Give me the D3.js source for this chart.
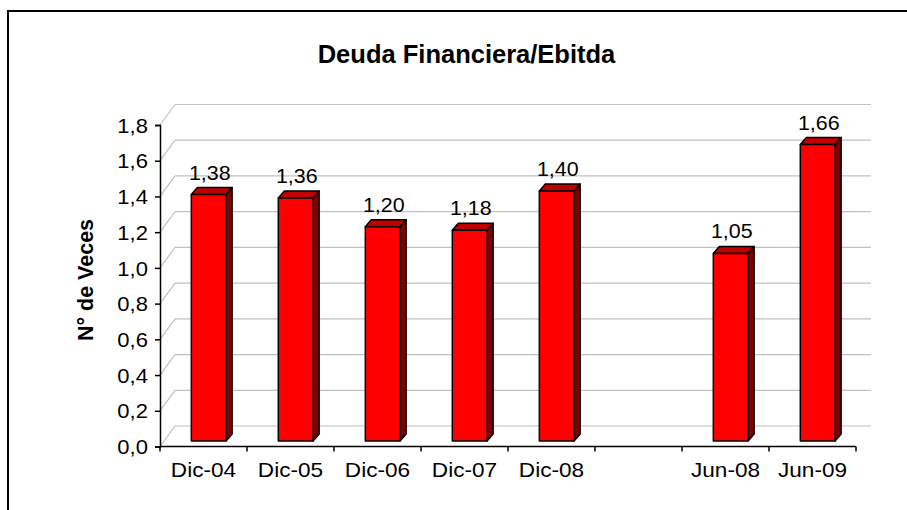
<!DOCTYPE html>
<html lang="es">
  <meta charset="UTF-8" />
  <title>Deuda Financiera/Ebitda</title>
  <style>
    body { margin: 0; background: #fff; }
    text { font-family: "Liberation Sans", Arial, sans-serif; fill: #000; }
  </style>
  <script src="https://d3js.org/d3.v7.min.js"></script>
  <body>
    <div id="chart"></div>
    <script>
      // data (blank slot between Dic-08 and Jun-08)
      const categories = ["Dic-04", "Dic-05", "Dic-06", "Dic-07", "Dic-08", "", "Jun-08", "Jun-09"];
      const values = [1.38, 1.36, 1.2, 1.18, 1.4, null, 1.05, 1.66];
      const yTicks = [0, 0.2, 0.4, 0.6, 0.8, 1.0, 1.2, 1.4, 1.6, 1.8];

      const W = 907, H = 510;
      const plotLeft = 160, plotRight = 856, plotTop = 125, plotBottom = 446.5;
      const wall = { dx: 15, dy: -20.5 }; // back wall offset
      const front = { dx: 0, dy: -5.5 }; // bar front face offset from axis plane
      const depth = { dx: 6, dy: -7 }; // bar depth
      const stretch = "scale(1.1,1)"; // the original text is a bit wide

      const es = d3.formatLocale({ decimal: ",", thousands: ".", grouping: [3], currency: ["", ""] });
      const f1 = es.format(".1f"), f2 = es.format(".2f");

      const svg = d3.select("#chart").append("svg").attr("width", W).attr("height", H);

      // outer border (runs off the right and bottom edges)
      svg.append("rect")
        .attr("x", 8).attr("y", 11).attr("width", 910).attr("height", 520)
        .attr("fill", "none").attr("stroke", "#000").attr("stroke-width", 2);

      const x = d3.scaleBand().domain(categories).range([plotLeft, plotRight]).padding(0);
      const y = d3.scaleLinear().domain([0, 1.8]).range([plotBottom, plotTop]);

      // gridlines: side wall diagonal + back wall horizontal
      const grid = svg.append("g").attr("stroke", "#c0c0c0").attr("stroke-width", 1.2).attr("fill", "none");
      yTicks.forEach((t) => {
        grid.append("line")
          .attr("x1", plotLeft).attr("y1", y(t))
          .attr("x2", plotLeft + wall.dx).attr("y2", y(t) + wall.dy);
        grid.append("line")
          .attr("x1", plotLeft + wall.dx).attr("y1", y(t) + wall.dy)
          .attr("x2", plotRight + wall.dx).attr("y2", y(t) + wall.dy);
      });

      // y axis
      svg.append("g")
        .attr("transform", "translate(" + plotLeft + ",0)")
        .call(d3.axisLeft(y).tickValues(yTicks).tickFormat(f1).tickSize(5).tickPadding(6))
        .call((g) => g.select(".domain").attr("stroke", "#000").attr("stroke-width", 1.5))
        .call((g) => g.selectAll(".tick line").attr("stroke", "#000").attr("stroke-width", 1.5))
        .call((g) => g.selectAll(".tick text").attr("font-size", 20).attr("font-family", null)
          .attr("dy", "0.36em").attr("transform", stretch));

      // x axis: labels at band centres, ticks at band edges
      const xa = svg.append("g").attr("transform", "translate(0," + plotBottom + ")");
      xa.call(d3.axisBottom(x).tickSize(0).tickPadding(16))
        .call((g) => g.select(".domain").remove())
        .call((g) => g.selectAll(".tick text").attr("font-size", 20).attr("font-family", null)
          .attr("transform", "scale(1.13,1)"));
      xa.append("line").attr("x1", plotLeft).attr("x2", plotRight).attr("stroke", "#000").attr("stroke-width", 1.5);
      categories.concat([null]).forEach((c, i) => {
        const px = i < categories.length ? x(c) : plotRight;
        xa.append("line").attr("x1", px).attr("x2", px).attr("y1", 0).attr("y2", 5)
          .attr("stroke", "#000").attr("stroke-width", 1.5);
      });

      // 3D bars
      const bars = svg.append("g").attr("stroke", "#000").attr("stroke-width", 1.5).attr("stroke-linejoin", "round");
      const bw = x.bandwidth() * 0.4;
      categories.forEach((c, i) => {
        const v = values[i];
        if (v == null) return;
        const x0 = x(c) + x.bandwidth() * 0.36 + front.dx;
        const x1 = x0 + bw;
        const yt = y(v) + front.dy;
        const yb = y(0) + front.dy;
        const pts = (a) => a.map((p) => p.join(",")).join(" ");
        bars.append("polygon").attr("fill", "#800000")
          .attr("points", pts([[x1, yt], [x1 + depth.dx, yt + depth.dy], [x1 + depth.dx, yb + depth.dy], [x1, yb]]));
        bars.append("polygon").attr("fill", "#c00000")
          .attr("points", pts([[x0, yt], [x0 + depth.dx, yt + depth.dy], [x1 + depth.dx, yt + depth.dy], [x1, yt]]));
        bars.append("rect").attr("fill", "#ff0000")
          .attr("x", x0).attr("y", yt).attr("width", bw).attr("height", yb - yt);
        svg.append("text")
          .attr("transform", "translate(" + ((x0 + x1) / 2 + 1) + "," + (yt - 15) + ") scale(1.07,1)")
          .attr("text-anchor", "middle").attr("font-size", 20)
          .text(f2(v));
      });

      // titles
      svg.append("text")
        .attr("x", 466.5).attr("y", 63).attr("text-anchor", "middle")
        .attr("font-size", 25.5).attr("font-weight", "bold")
        .text("Deuda Financiera/Ebitda");
      svg.append("text")
        .attr("transform", "translate(93,280) rotate(-90)")
        .attr("text-anchor", "middle").attr("font-size", 21.5).attr("font-weight", "bold")
        .text("N° de Veces");
    </script>
  </body>
</html>
